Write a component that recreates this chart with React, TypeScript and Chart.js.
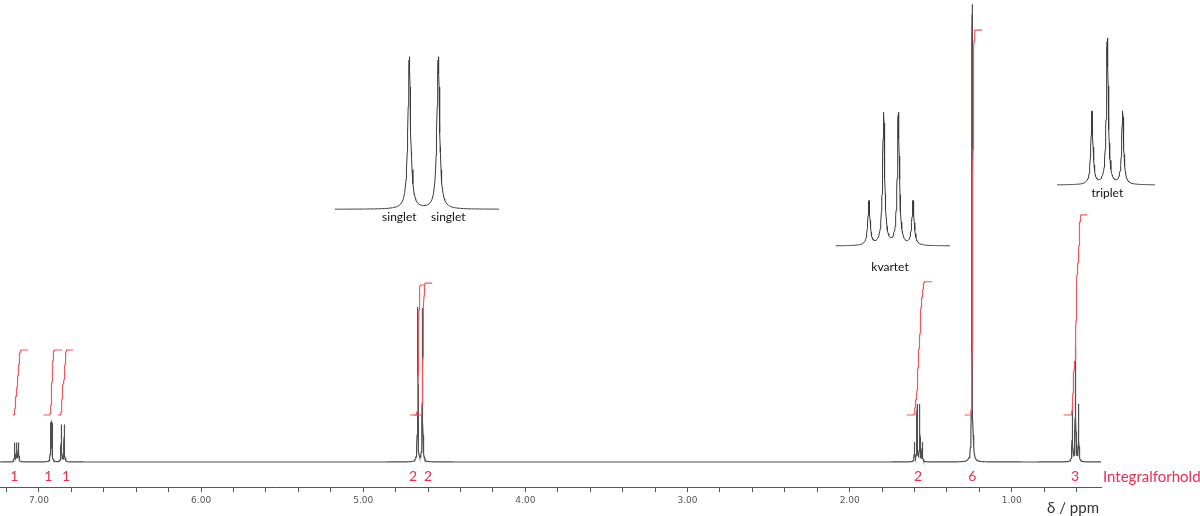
import React, { useEffect, useRef } from "react";
import { Chart, registerables } from "chart.js";

Chart.register(...registerables);

// ---------------- data ----------------
const AXIS_PPM_MAX = 7.2405;
const AXIS_PPM_MIN = 0.4497;
const TICK_VALUES = [7.2, 7.0, 6.8, 6.6, 6.4, 6.2, 6.0, 5.8, 5.6, 5.4, 5.2, 5.0, 4.8, 4.6, 4.4, 4.2, 4.0, 3.8, 3.6, 3.4, 3.2, 3.0, 2.8, 2.6, 2.4, 2.2, 2.0, 1.8, 1.6, 1.4, 1.2, 1.0, 0.8, 0.6];
const MAJOR_TICK_VALUES = [7, 6, 5, 4, 3, 2, 1];
const MAJOR_TICK_LABELS = ["7.00", "6.00", "5.00", "4.00", "3.00", "2.00", "1.00"];

// multiplets: line positions (ppm) and peak heights (intensity units)
const MULT_PPM = [
  [7.150, 7.137, 7.126],
  [6.928, 6.920],
  [6.862, 6.844],
  [4.664],
  [4.635],
  [1.600, 1.584, 1.568, 1.552],
  [1.245],
  [0.626, 0.607, 0.588],
];
const MULT_HEIGHT = [
  [4.1, 4.0, 4.1],
  [8.2, 8.2],
  [8.0, 8.0],
  [33.4],
  [33.2],
  [4.1, 12.3, 12.3, 4.1],
  [99.1],
  [12.3, 24.9, 12.3],
];
const INTEGRAL_VALUES = [1, 1, 1, 2, 2.03, 2.05, 5.92, 3.08];
const INTEGRAL_FROM_PPM = [7.1665, 6.977, 6.889, 4.716, 4.693, 1.652, 1.295, 0.685];
const INTEGRAL_TO_PPM = [7.0678, 6.858, 6.790, 4.619, 4.576, 1.492, 1.184, 0.537];
const INTEGRAL_LABELS = ["1", "1", "1", "2", "2", "2", "6", "3"];
const INTEGRAL_LABEL_PPM = [7.152, 6.942, 6.833, 4.693, 4.601, 1.578, 1.244, 0.610];

// expanded multiplet insets
const INSET_NAMES = ["singlet", "kvartet", "triplet"];
const INSET_PPM = [
  [4.664, 4.635],
  [1.600, 1.584, 1.568, 1.552],
  [0.626, 0.607, 0.588],
];
const INSET_REL = [
  [1, 1],
  [1, 3, 3, 1],
  [1, 2, 1],
];

// ---------------- layout / style ----------------
const W = 1200;
const H = 516;
const AREA_RIGHT_PAD = 99;
const AXIS_HEIGHT = 29;
const AREA_W = W - AREA_RIGHT_PAD;
const AREA_H = H - AXIS_HEIGHT;
const PX_PER_PPM = AREA_W / (AXIS_PPM_MAX - AXIS_PPM_MIN);
const BASELINE_PX = 462;
const MAIN_Y_MAX = 100;
const MAIN_UNIT_PX = BASELINE_PX / MAIN_Y_MAX;
const MAIN_Y_MIN = -(AREA_H - BASELINE_PX) / MAIN_UNIT_PX;
const INT_BASE_PX = 415;
const INT_UNIT_PX = 65;
const INT_Y_MIN = -(AREA_H - INT_BASE_PX) / INT_UNIT_PX;
const INT_Y_MAX = INT_Y_MIN + AREA_H / INT_UNIT_PX;
const INT_DRAW_SHIFT_PX = 0.7;
const INT_SIGMA_PX = 0.7;

const INSET_LAYOUT = [
  { firstPx: 409.3, lastPx: 438.3, basePx: 209.3, topPx: 56.7, leftPx: 335, rightPx: 499, hwPx: 1.6,
    labels: [{ at: 0, dx: -10, dy: 7.5 }, { at: 1, dx: 10, dy: 7.5 }] },
  { firstPx: 869, lastPx: 913, basePx: 246, topPx: 112.3, leftPx: 836, rightPx: 950, hwPx: 1.3,
    labels: [{ at: -1, dx: -1, dy: 21 }] },
  { firstPx: 1092, lastPx: 1122.7, basePx: 185, topPx: 38, leftPx: 1057, rightPx: 1155, hwPx: 1.2,
    labels: [{ at: 1, dx: 0, dy: 8.3 }] },
];

const SPECTRUM_COLOR = "#4f4f4f";
const INSET_COLOR = "#3a3a3a";
const INTEGRAL_COLOR = "#f25a5e";
const RED_TEXT = "#ee2b55";
const LABEL_FONT = "Lato, 'Open Sans', sans-serif";

// ---------------- helpers ----------------
const lor = (x: number, p: number, w: number) => 1 / (1 + ((x - p) / w) ** 2);

function erf(z: number): number {
  const s = z < 0 ? -1 : 1;
  const a = Math.abs(z);
  const t = 1 / (1 + 0.3275911 * a);
  const y = 1 - (((((1.061405429 * t - 1.453152027) * t) + 1.421413741) * t - 0.284496736) * t + 0.254829592) * t * Math.exp(-a * a);
  return s * y;
}

function sampleGrid(centers: number[], w: number, lo: number, hi: number, n: number): number[] {
  const offs = [0, 0.15, 0.3, 0.5, 0.7, 1, 1.3, 1.7, 2.2, 3, 4, 5.5, 7.5, 10, 14, 20, 28, 40, 60, 90, 140, 220];
  const pts: number[] = [lo, hi];
  for (let i = 1; i < n; i++) pts.push(lo + ((hi - lo) * i) / n);
  centers.forEach((c) => offs.forEach((o) => { pts.push(c + o * w); pts.push(c - o * w); }));
  const f = pts.filter((x) => x >= lo && x <= hi).sort((a, b) => b - a);
  const out: number[] = [];
  for (const x of f) if (!out.length || Math.abs(out[out.length - 1] - x) > 1e-9) out.push(x);
  return out;
}

function buildConfig() {
  const allP = MULT_PPM.flat();
  const allH = MULT_HEIGHT.flat();
  const wMain = 0.3 / PX_PER_PPM;
  const mainXs = sampleGrid(allP, wMain, AXIS_PPM_MIN, AXIS_PPM_MAX, 300);
  const mainData = mainXs.map((x) => ({ x, y: allP.reduce((s, p, i) => s + allH[i] * lor(x, p, wMain), 0) }));

  const datasets: any[] = [
    { label: "spectrum", data: mainData, xAxisID: "x", yAxisID: "y", borderColor: SPECTRUM_COLOR, borderWidth: 1.2, order: 3 },
  ];

  const sig = INT_SIGMA_PX / PX_PER_PPM;
  MULT_PPM.forEach((ps, k) => {
    const hs = MULT_HEIGHT[k];
    const lo = INTEGRAL_TO_PPM[k];
    const hi = INTEGRAL_FROM_PPM[k];
    const S = (x: number) => ps.reduce((s, p, i) => s + hs[i] * 0.5 * (1 + erf((p - x) / (sig * Math.SQRT2))), 0);
    const s0 = S(hi);
    const s1 = S(lo);
    const xs = sampleGrid(ps, sig, lo, hi, 40);
    datasets.push({
      label: "integral" + k,
      data: xs.map((x) => ({ x, y: (INTEGRAL_VALUES[k] * (S(x) - s0)) / (s1 - s0) })),
      xAxisID: "xI", yAxisID: "yI", borderColor: INTEGRAL_COLOR, borderWidth: 1.2, order: 2,
    });
  });

  const shiftPpm = INT_DRAW_SHIFT_PX / PX_PER_PPM;
  const scales: any = {
    x: {
      type: "linear", reverse: true, min: AXIS_PPM_MIN, max: AXIS_PPM_MAX, position: "bottom",
      afterBuildTicks: (s: any) => { s.ticks = TICK_VALUES.map((v) => ({ value: v })); },
      afterFit: (s: any) => { s.height = AXIS_HEIGHT; },
      grid: { display: true, drawOnChartArea: false, drawTicks: true, tickLength: 5, color: "#555", lineWidth: 1 },
      border: { display: true, color: "#555", width: 1 },
      ticks: {
        autoSkip: false, maxRotation: 0, minRotation: 0, padding: 3, includeBounds: false,
        color: "#555", font: { family: "'DejaVu Sans', sans-serif", size: 9 },
        callback: (v: number) => {
          const i = MAJOR_TICK_VALUES.findIndex((m) => Math.abs(m - v) < 1e-6);
          return i >= 0 ? MAJOR_TICK_LABELS[i] : "";
        },
      },
    },
    xI: { type: "linear", display: false, reverse: true, min: AXIS_PPM_MIN + shiftPpm, max: AXIS_PPM_MAX + shiftPpm },
    y: { type: "linear", display: false, min: MAIN_Y_MIN, max: MAIN_Y_MAX },
    yI: { type: "linear", display: false, min: INT_Y_MIN, max: INT_Y_MAX },
  };

  const insetInfo: any[] = [];
  INSET_PPM.forEach((ps, k) => {
    const lay = INSET_LAYOUT[k];
    const first = ps[0];
    const last = ps[ps.length - 1];
    const ppx = (lay.lastPx - lay.firstPx) / (first - last);
    const xmax = first + lay.firstPx / ppx;
    const xmin = xmax - AREA_W / ppx;
    const ymax = lay.basePx / (lay.basePx - lay.topPx);
    const ymin = ymax - AREA_H / (lay.basePx - lay.topPx);
    const hi = xmax - lay.leftPx / ppx;
    const lo = xmax - lay.rightPx / ppx;
    const w = lay.hwPx / ppx;
    const rel = INSET_REL[k];
    const xs = sampleGrid(ps, w, lo, hi, 120);
    const raw = xs.map((x) => ps.reduce((s, p, i) => s + rel[i] * lor(x, p, w), 0));
    const peak = Math.max(...raw);
    scales["xS" + k] = { type: "linear", display: false, reverse: true, min: xmin, max: xmax };
    scales["yS" + k] = { type: "linear", display: false, min: ymin, max: ymax };
    datasets.push({
      label: "inset" + k,
      data: xs.map((x, i) => ({ x, y: raw[i] / peak })),
      xAxisID: "xS" + k, yAxisID: "yS" + k, borderColor: INSET_COLOR, borderWidth: 1, order: 1,
    });
    insetInfo.push({ k, ps, lay });
  });

  const textPlugin = {
    id: "nmrTexts",
    afterDatasetsDraw(chart: any) {
      const ctx = chart.ctx;
      const xs = chart.scales.x;
      const area = chart.chartArea;
      ctx.save();
      ctx.fillStyle = RED_TEXT;
      ctx.font = `14px ${LABEL_FONT}`;
      ctx.textBaseline = "alphabetic";
      ctx.textAlign = "center";
      INTEGRAL_LABELS.forEach((t, i) => ctx.fillText(t, xs.getPixelForValue(INTEGRAL_LABEL_PPM[i]), 481));
      ctx.textAlign = "left";
      ctx.font = `15px ${LABEL_FONT}`;
      ctx.fillText("Integralforhold", area.right + 2, 482);
      ctx.fillStyle = "#333";
      ctx.textAlign = "right";
      ctx.fillText("δ / ppm", area.right - 2, 513);

      ctx.fillStyle = "#111";
      ctx.font = `12px ${LABEL_FONT}`;
      ctx.textAlign = "center";
      ctx.textBaseline = "middle";
      insetInfo.forEach(({ k, ps, lay }) => {
        const sx = chart.scales["xS" + k];
        const sy = chart.scales["yS" + k];
        const base = sy.getPixelForValue(0);
        lay.labels.forEach((lb: any) => {
          const ppm = lb.at >= 0 ? ps[lb.at] : (ps[0] + ps[ps.length - 1]) / 2;
          ctx.fillText(INSET_NAMES[k], sx.getPixelForValue(ppm) + lb.dx, base + lb.dy);
        });
      });
      ctx.restore();
    },
  };

  return {
    type: "line" as const,
    data: { datasets },
    options: {
      responsive: true,
      maintainAspectRatio: false,
      animation: false as const,
      events: [],
      layout: { padding: { left: 0, right: AREA_RIGHT_PAD, top: 0, bottom: 0 } },
      elements: { point: { radius: 0 }, line: { tension: 0, fill: false } },
      datasets: { line: { clip: false, pointRadius: 0, spanGaps: true } },
      plugins: { legend: { display: false }, tooltip: { enabled: false }, title: { display: false } },
      scales,
    },
    plugins: [textPlugin],
  };
}

export default function App() {
  const ref = useRef<HTMLCanvasElement>(null);
  useEffect(() => {
    document.body.style.margin = "0";
    const chart = new Chart(ref.current as HTMLCanvasElement, buildConfig() as any);
    return () => chart.destroy();
  }, []);
  return (
    <div style={{ position: "fixed", left: 0, top: 0, width: W, height: H, background: "#fff" }}>
      <canvas ref={ref} />
    </div>
  );
}
